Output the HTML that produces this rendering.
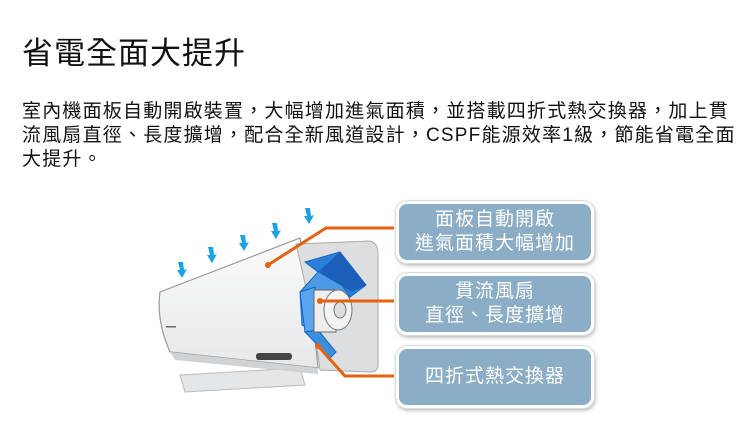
<!DOCTYPE html>
<html><head><meta charset="utf-8"><style>
body{margin:0;width:750px;height:440px;background:#fff;position:relative;overflow:hidden;font-family:"Liberation Sans","Noto Sans CJK TC",sans-serif;color:#111}
.t{position:absolute;left:22px;top:28px;font-size:31px;letter-spacing:1px;white-space:nowrap}
.p{position:absolute;left:22px;white-space:nowrap;font-size:19px;letter-spacing:1.2px}
.b{position:absolute;left:396px;width:192px;background:#8badc5;border:3px solid #fff;border-radius:11px;box-shadow:0 0 0 1px #d8dde2,1px 2px 4px rgba(0,0,0,.35);color:#fff;font-size:19px;letter-spacing:1px;text-align:center;line-height:24px;display:flex;flex-direction:column;justify-content:center}
</style></head><body>
<div class="t">省電全面大提升</div>
<div class="p" style="top:96px">室內機面板自動開啟裝置，大幅增加進氣面積，並搭載四折式熱交換器，加上貫</div>
<div class="p" style="top:120px">流風扇直徑、長度擴增，配合全新風道設計，CSPF能源效率1級，節能省電全面</div>
<div class="p" style="top:144px">大提升。</div>
<svg width="750" height="440" style="position:absolute;left:0;top:0">
<defs><linearGradient id="g" x1="0" y1="0" x2="0" y2="1"><stop offset="0" stop-color="#fafafa"/><stop offset="1" stop-color="#e6e8ea"/></linearGradient></defs>
<polygon points="180,375 300,368 305,385 185,392" fill="#e4e6e8" stroke="#bbb"/>
<path d="M160,292 L300,238 Q312,300 318,368 L170,352 Q156,320 160,292Z" fill="url(#g)" stroke="#999" stroke-width="1.2"/>
<path d="M170,352 L318,368 L318,374 L175,360Z" fill="#cfd3d6"/>
<rect x="256" y="353" width="36" height="7" rx="3" fill="#444"/>
<rect x="166" y="326" width="10" height="1.5" fill="#666"/>
<path d="M296,244 L370,241 Q378,243 378,253 L378,365 Q378,372 370,372 L320,370 Q312,310 296,244Z" fill="#dcdee0" stroke="#aaa"/>
<path d="M305,262 L340,252 L366,285 L350,297 L330,268 L318,272Z" fill="#2a7fd8" stroke="#1565c0"/>
<path d="M300,292 L318,272 L330,268 L350,297 L318,298 L312,330 L302,325Z" fill="#4b9ae6" stroke="#1565c0"/>
<path d="M300,292 L315,287 L318,330 L305,332Z" fill="#5aa6ee" stroke="#1565c0"/>
<path d="M305,332 L318,330 L336,352 L330,358Z" fill="#3b8fe0" stroke="#1565c0"/>
<path d="M318,272 L340,252 L366,285 L352,292Z" fill="#1c5fb8"/>
<rect x="314" y="290" width="22" height="42" fill="#eee" stroke="#666"/>
<ellipse cx="338" cy="310" rx="14" ry="20" fill="#f3f3f3" stroke="#777"/>
<ellipse cx="340" cy="310" rx="6" ry="8" fill="#ddd" stroke="#777"/>
<g fill="#1aa3e0">
<path d="M178,262 l5,0 l1,8 l3,-1 l-5,9 l-5,-8 l3,0Z"/>
<path d="M208,247 l5,0 l1,8 l3,-1 l-5,9 l-5,-8 l3,0Z"/>
<path d="M240,235 l5,0 l1,8 l3,-1 l-5,9 l-5,-8 l3,0Z"/>
<path d="M272,223 l5,0 l1,8 l3,-1 l-5,9 l-5,-8 l3,0Z"/>
<path d="M305,208 l5,0 l1,8 l3,-1 l-5,9 l-5,-8 l3,0Z"/>
</g>
<g stroke="#e5620f" stroke-width="3" fill="none">
<polyline points="268,265 326,228 394,228"/>
<polyline points="320,301 394,301"/>
<polyline points="318,346 345,376 394,376"/>
</g>
<g fill="#e5620f"><circle cx="268" cy="265" r="3"/><circle cx="320" cy="301" r="3"/><circle cx="318" cy="346" r="3"/></g>
</svg>
<div class="b" style="top:201px;height:56px">面板自動開啟<br>進氣面積大幅增加</div>
<div class="b" style="top:273px;height:56px">貫流風扇<br>直徑、長度擴增</div>
<div class="b" style="top:346px;height:56px">四折式熱交換器</div>
</body></html>
